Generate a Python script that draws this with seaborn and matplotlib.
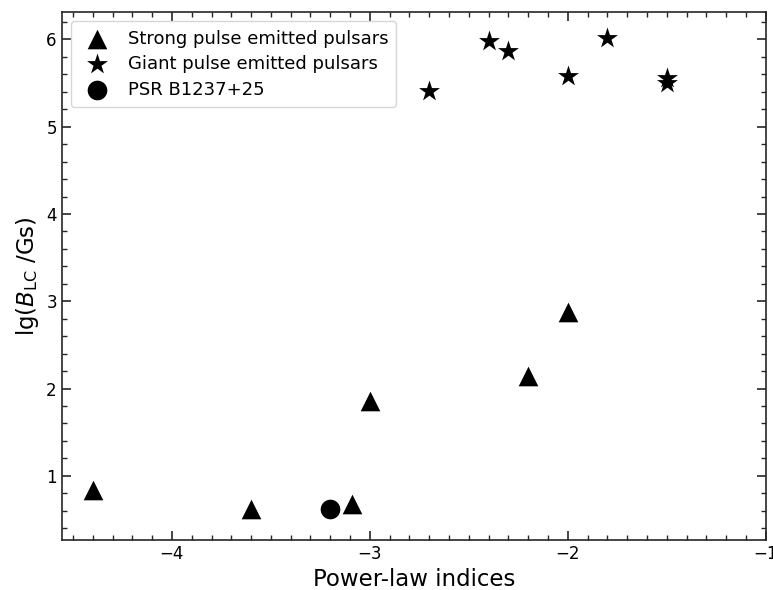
import matplotlib
matplotlib.use("Agg")
import matplotlib.pyplot as plt
from matplotlib.ticker import MultipleLocator
import seaborn as sns
import pandas as pd

# Data
strong_x = [-4.40, -3.60, -3.09, -3.00, -2.20, -2.00]
strong_y = [0.84, 0.62, 0.675, 1.855, 2.145, 2.88]
giant_x = [-2.70, -2.40, -2.30, -2.00, -1.80, -1.50, -1.50]
giant_y = [5.41, 5.98, 5.87, 5.58, 6.02, 5.56, 5.50]
psr_x = [-3.20]
psr_y = [0.615]

labels = ["Strong pulse emitted pulsars", "Giant pulse emitted pulsars", "PSR B1237+25"]
markers = ["^", "*", "o"]
sizes = [200, 250, 200]

sns.set_style("ticks")
plt.rcParams["font.family"] = ["DejaVu Sans"]
plt.rcParams["text.color"] = "black"
plt.rcParams["axes.labelcolor"] = "black"
plt.rcParams["xtick.labelcolor"] = "black"
plt.rcParams["ytick.labelcolor"] = "black"

fig = plt.figure(figsize=(7.73, 5.90), dpi=100)
ax = fig.add_axes([0.0798, 0.0847, 0.9108, 0.8943])

groups = [(strong_x, strong_y), (giant_x, giant_y), (psr_x, psr_y)]
for (gx, gy), lab, mk, sz in zip(groups, labels, markers, sizes):
    df = pd.DataFrame({"x": gx, "y": gy})
    sns.scatterplot(data=df, x="x", y="y", marker=mk, color="black", s=sz,
                    edgecolor="black", linewidth=0, label=lab, ax=ax, legend=False)

ax.set_xlim(-4.557, -1.0)
ax.set_ylim(0.264, 6.31)
ax.xaxis.set_major_locator(MultipleLocator(1))
ax.xaxis.set_minor_locator(MultipleLocator(0.1))
ax.yaxis.set_major_locator(MultipleLocator(1))
ax.yaxis.set_minor_locator(MultipleLocator(0.2))
ax.tick_params(which="both", direction="in", top=True, right=True, labelsize=12)
ax.tick_params(which="major", length=6.5, width=1.2)
ax.tick_params(which="minor", length=3.5, width=1.0)
for sp in ax.spines.values():
    sp.set_linewidth(1.2)

ax.set_xlabel("Power-law indices", fontsize=16.5)
ax.set_ylabel(r"lg($B_{\rm LC}$ /Gs)", fontsize=16.5)

ax.legend(loc="upper left", fontsize=13, handletextpad=0.7, borderpad=0.45,
          labelspacing=0.42)

fig.savefig("out.png", dpi=100)
